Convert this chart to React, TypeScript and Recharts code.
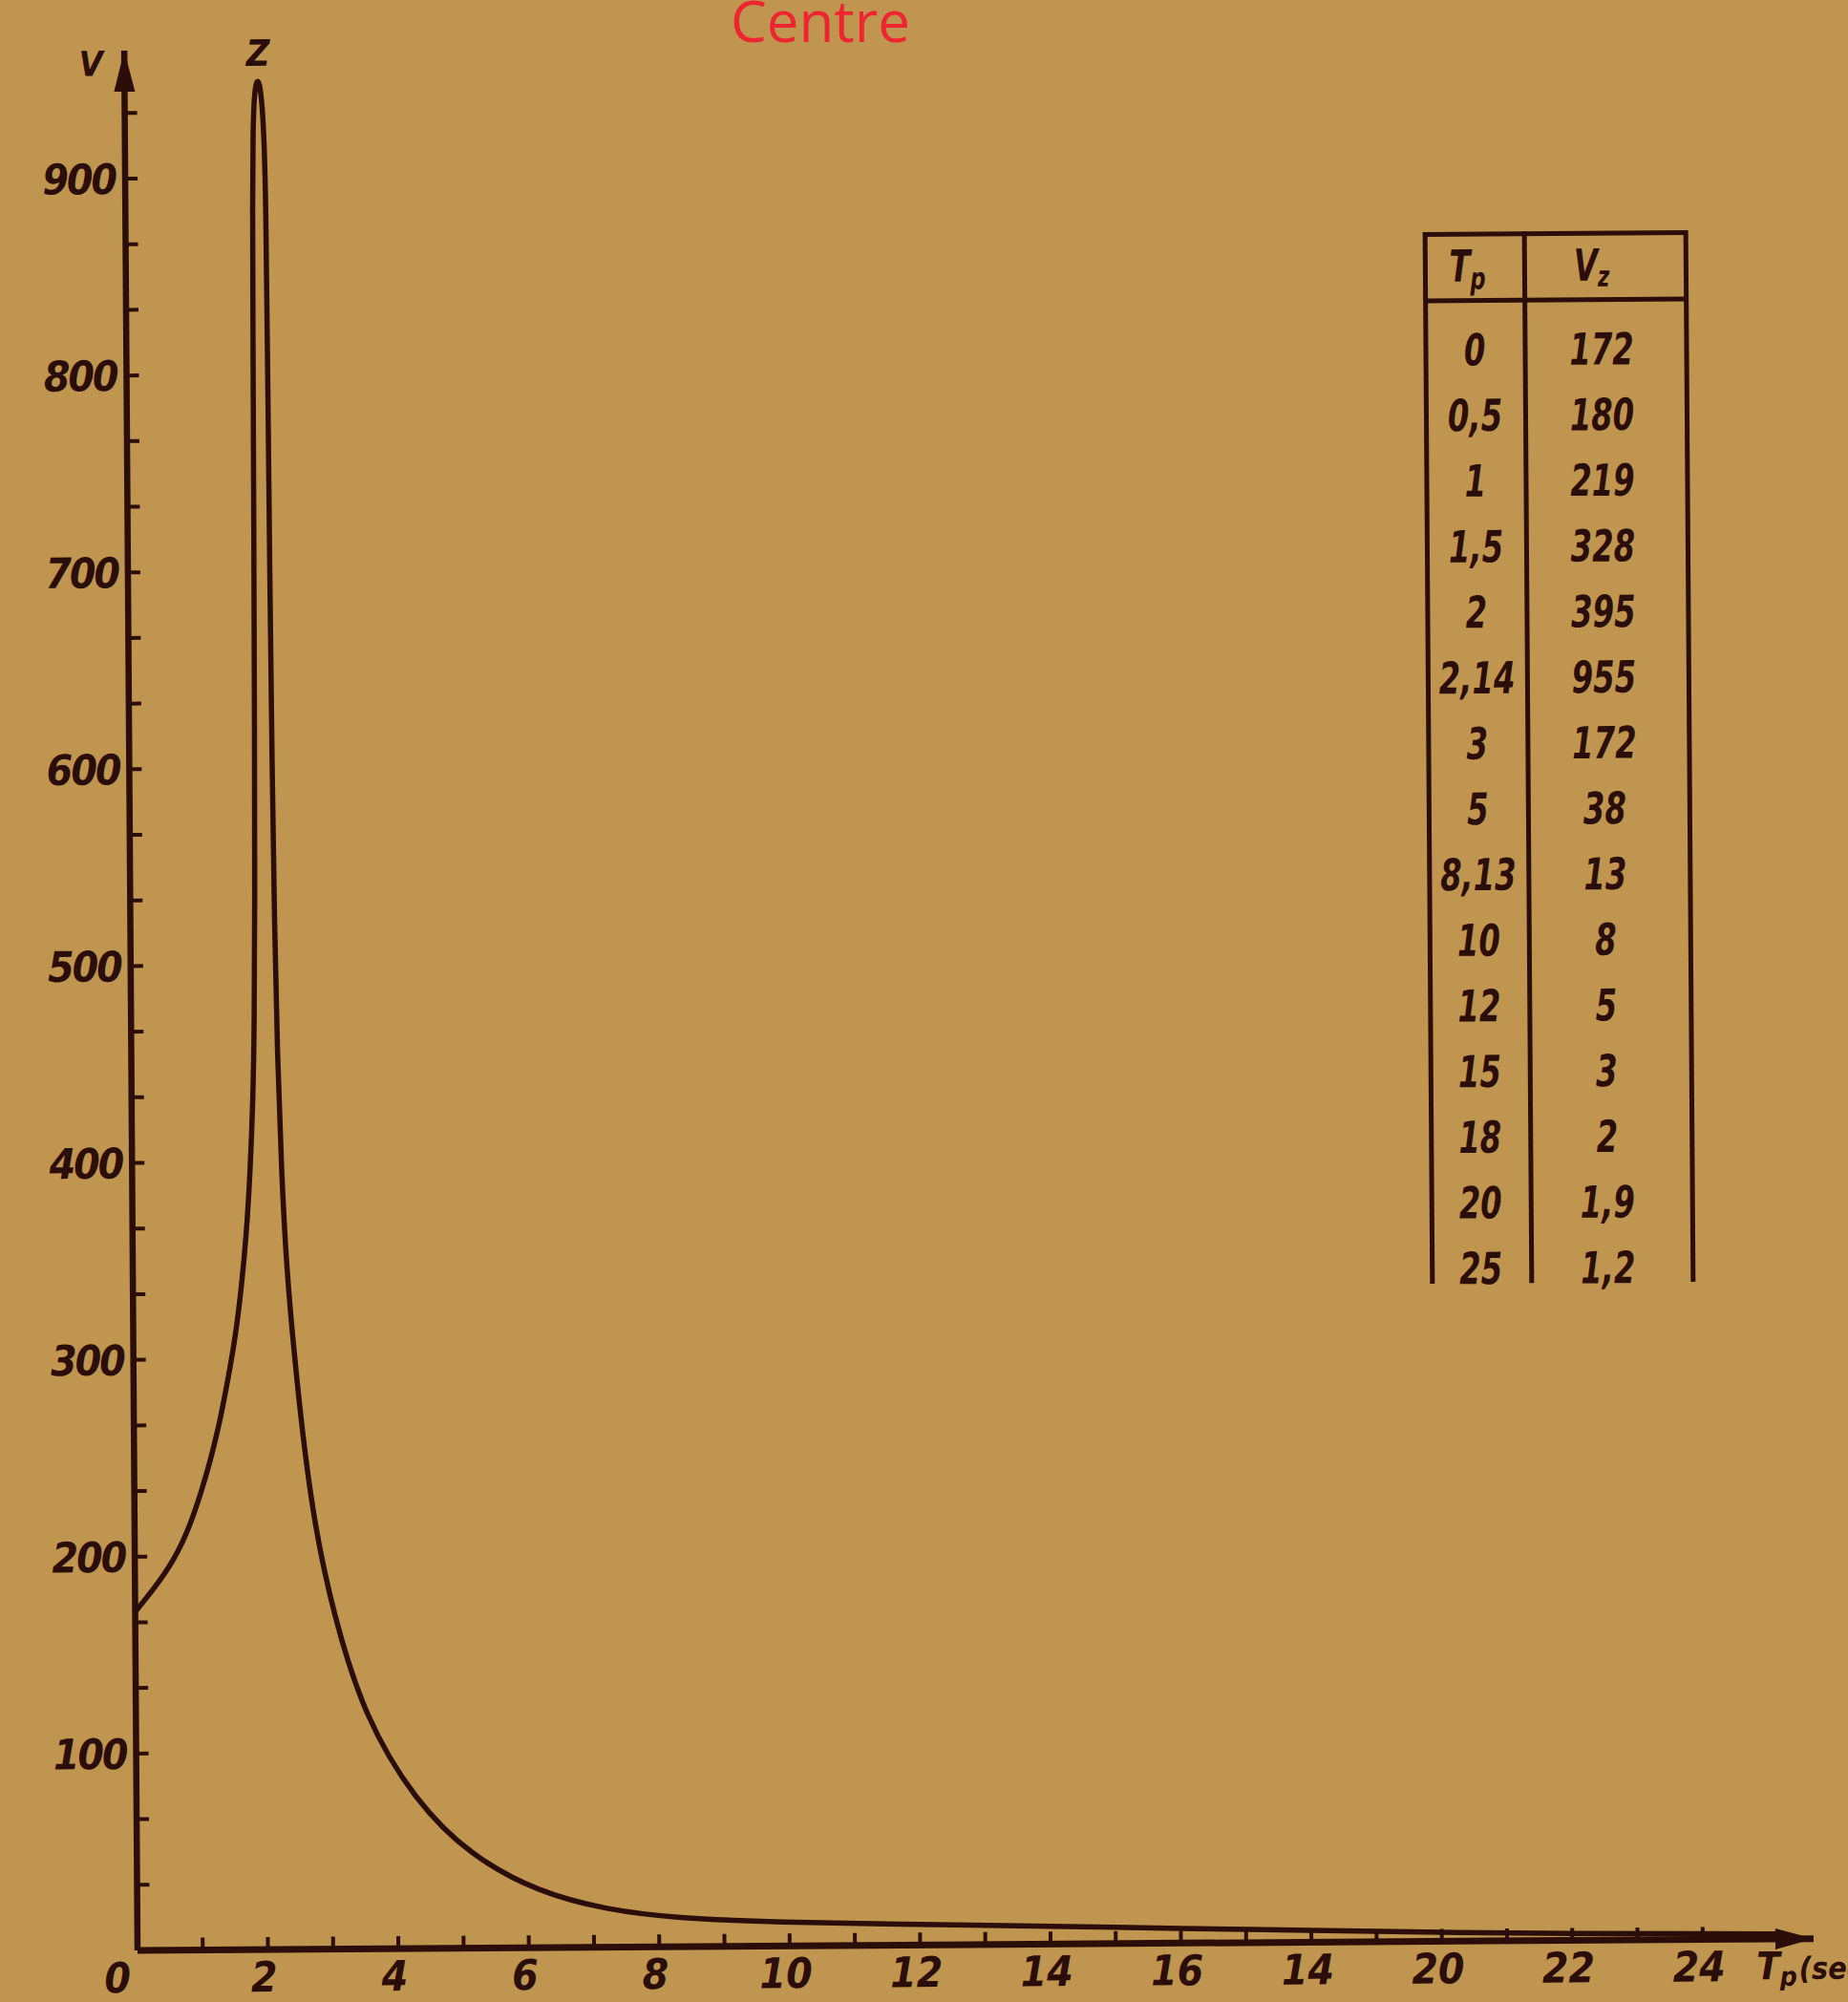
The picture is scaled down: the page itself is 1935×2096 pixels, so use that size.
import React from 'react';
import { LineChart, Line, XAxis, YAxis, ReferenceDot } from 'recharts';

// points: Tp (sec) and V
const periods = [
  0, 0.3, 0.6, 0.85, 1.1, 1.3, 1.45, 1.57, 1.67, 1.75,
  1.81, 1.86, 1.89, 1.91, 1.925, 1.935, 1.943, 1.95, 1.965, 1.99,
  2.03, 2.07, 2.1, 2.13, 2.155, 2.165, 2.175, 2.19, 2.21, 2.24,
  2.29, 2.36, 2.46, 2.58, 2.76, 3.04, 3.5, 4.27, 5.11, 6.16,
  7.2, 8.25, 9.8, 12, 14, 16, 18, 20, 22, 24,
  25.2,
];
const velocities = [
  172, 184, 198, 215, 240, 265, 290, 312, 338, 365,
  395, 430, 470, 530, 620, 720, 820, 890, 925, 943,
  950, 948, 940, 925, 890, 800, 700, 600, 520, 455,
  395, 345, 305, 263, 215, 170, 118, 75, 47, 28,
  19, 14.5, 12, 10.5, 9, 7.5, 6, 4.5, 3.5, 3,
  2.5,
];

const xTicks = Array.from({ length: 25 }, (_, i) => i);
// labels on even ticks, printed as in the original (18 reads "14")
const xTickLabels = ['0', '2', '4', '6', '8', '10', '12', '14', '16', '14', '20', '22', '24'];
// minor ticks split every hundred in thirds
const yTicks = Array.from({ length: 29 }, (_, i) => (i * 100) / 3);

// inset table
const tableTp = ['0', '0,5', '1', '1,5', '2', '2,14', '3', '5', '8,13', '10', '12', '15', '18', '20', '25'];
const tableVz = ['172', '180', '219', '328', '395', '955', '172', '38', '13', '8', '5', '3', '2', '1,9', '1,2'];

const INK = '#2b0e09';
const PAPER = '#c0954f';
const TICK_FONT = "'DejaVu Sans Condensed', 'DejaVu Sans', sans-serif";

const chartData = periods.map((tp, i) => ({ tp, v: velocities[i] }));

const XTick = (props: any) => {
  const { x, y, payload } = props;
  const val = payload.value as number;
  const label = val % 2 === 0 ? xTickLabels[val / 2] : null;
  return (
    <g>
      {val > 0 && <line x1={x} y1={y} x2={x} y2={y - 13} stroke={INK} strokeWidth={4} />}
      {label && (
        <text
          x={x + (val === 0 ? -21 : -4)}
          y={y + 44}
          textAnchor="middle"
          fontFamily={TICK_FONT}
          fontStyle="italic"
          fontWeight="bold"
          fontSize={44}
          fill={INK}
        >
          {label}
        </text>
      )}
    </g>
  );
};

const YTick = (props: any) => {
  const { x, y, payload } = props;
  const val = payload.value as number;
  if (val === 0) return <g />;
  return (
    <g>
      <line x1={x} y1={y} x2={x + 13} y2={y} stroke={INK} strokeWidth={4} />
      {val % 100 === 0 && (
        <text
          x={x - 10}
          y={y + 16}
          textAnchor="end"
          fontFamily={TICK_FONT}
          fontStyle="italic"
          fontWeight="bold"
          fontSize={44}
          fill={INK}
          letterSpacing={-2}
        >
          {val}
        </text>
      )}
    </g>
  );
};

const UpArrow = (props: any) => {
  const { cx, cy } = props;
  return (
    <g>
      <path d={`M${cx},${cy} L${cx - 11},${cy + 43} L${cx + 11},${cy + 43} Z`} fill={INK} />
      <text
        x={cx - 35}
        y={cy + 26}
        textAnchor="middle"
        fontFamily={TICK_FONT}
        fontStyle="italic"
        fontWeight="bold"
        fontSize={36}
        fill={INK}
      >
        V
      </text>
    </g>
  );
};

const RightArrow = (props: any) => {
  const { cx, cy } = props;
  return (
    <g>
      <path d={`M${cx},${cy} L${cx - 40},${cy - 11} L${cx - 40},${cy + 11} Z`} fill={INK} />
      <text
        x={cx - 60}
        y={cy + 42}
        fontFamily={TICK_FONT}
        fontStyle="italic"
        fontWeight="bold"
        fontSize={40}
        fill={INK}
      >
        T
        <tspan fontSize={28} dy={7}>p</tspan>
        <tspan fontSize={32} dy={-7} dx={2}>(sec)</tspan>
      </text>
    </g>
  );
};

const PeakLabel = (props: any) => {
  const { cx, cy } = props;
  return (
    <text
      x={cx}
      y={cy - 14}
      textAnchor="middle"
      fontFamily={TICK_FONT}
      fontStyle="italic"
      fontWeight="bold"
      fontSize={38}
      fill={INK}
    >
      Z
    </text>
  );
};

const rowY = (i: number) => 134.8 + i * 68.7;

// narrow italic cell text
const Cell = ({ x, y, children }: { x: number; y: number; children: React.ReactNode }) => (
  <text transform={`translate(${x},${y}) scale(0.78,1)`} textAnchor="middle">
    {children}
  </text>
);

const InsetTable = () => (
  <svg
    width={300}
    height={1130}
    style={{
      position: 'absolute',
      left: 1480,
      top: 230,
      transform: 'rotate(-0.4deg)',
      overflow: 'visible',
    }}
  >
    <g stroke={INK} strokeWidth={5} fill="none">
      <line x1={16} y1={14.5} x2={289} y2={14.5} />
      <line x1={16} y1={84} x2={289} y2={84} />
      <line x1={16} y1={12} x2={16} y2={1113} />
      <line x1={120} y1={12} x2={120} y2={1113} />
      <line x1={289} y1={12} x2={289} y2={1113} />
    </g>
    <g fontFamily={TICK_FONT} fontStyle="italic" fontWeight="bold" fontSize={46} fill={INK}>
      <Cell x={60} y={64}>
        T<tspan fontSize={32} dy={8}>p</tspan>
      </Cell>
      <Cell x={190} y={64}>
        V<tspan fontSize={30} dy={6}>z</tspan>
      </Cell>
      {tableTp.map((t, i) => (
        <Cell key={`tp-${i}`} x={67} y={rowY(i) + 17}>
          {t}
        </Cell>
      ))}
      {tableVz.map((t, i) => (
        <Cell key={`vz-${i}`} x={200} y={rowY(i) + 17}>
          {t}
        </Cell>
      ))}
    </g>
  </svg>
);

export default function App() {
  return (
    <div
      style={{
        position: 'relative',
        width: 1935,
        height: 2096,
        background: PAPER,
        overflow: 'hidden',
      }}
    >
      <style>{'body{margin:0;background:' + PAPER + ';}'}</style>
      <div
        style={{
          position: 'absolute',
          left: 0,
          top: 0,
          transform: 'rotate(-0.4deg)',
          transformOrigin: '144px 2042px',
        }}
      >
        <LineChart
          width={1935}
          height={2096}
          data={chartData}
          margin={{ top: 53, right: 36, bottom: 14, left: 84 }}
        >
          <XAxis
            type="number"
            dataKey="tp"
            domain={[0, 25.7]}
            ticks={xTicks}
            interval={0}
            height={40}
            tickLine={false}
            tickSize={0}
            tickMargin={0}
            tick={<XTick />}
            axisLine={{ stroke: INK, strokeWidth: 7 }}
          />
          <YAxis
            type="number"
            domain={[0, 965]}
            ticks={yTicks}
            interval={0}
            width={60}
            tickLine={false}
            tickSize={0}
            tickMargin={0}
            tick={<YTick />}
            axisLine={{ stroke: INK, strokeWidth: 6.5 }}
          />
          <Line
            type="basis"
            dataKey="v"
            stroke={INK}
            strokeWidth={5.5}
            dot={false}
            isAnimationActive={false}
          />
          <ReferenceDot x={0} y={965} r={0} shape={<UpArrow />} />
          <ReferenceDot x={25.7} y={0} r={0} shape={<RightArrow />} />
          <ReferenceDot x={2.05} y={950} r={0} shape={<PeakLabel />} />
        </LineChart>
      </div>
      <InsetTable />
      <svg
        width={1935}
        height={80}
        style={{ position: 'absolute', left: 0, top: 0, overflow: 'visible' }}
      >
        <text
          x={859}
          y={44}
          textAnchor="middle"
          fontFamily="'Open Sans', 'Noto Sans', sans-serif"
          fontSize={60}
          fill="#ee2430"
        >
          Centre
        </text>
      </svg>
    </div>
  );
}
